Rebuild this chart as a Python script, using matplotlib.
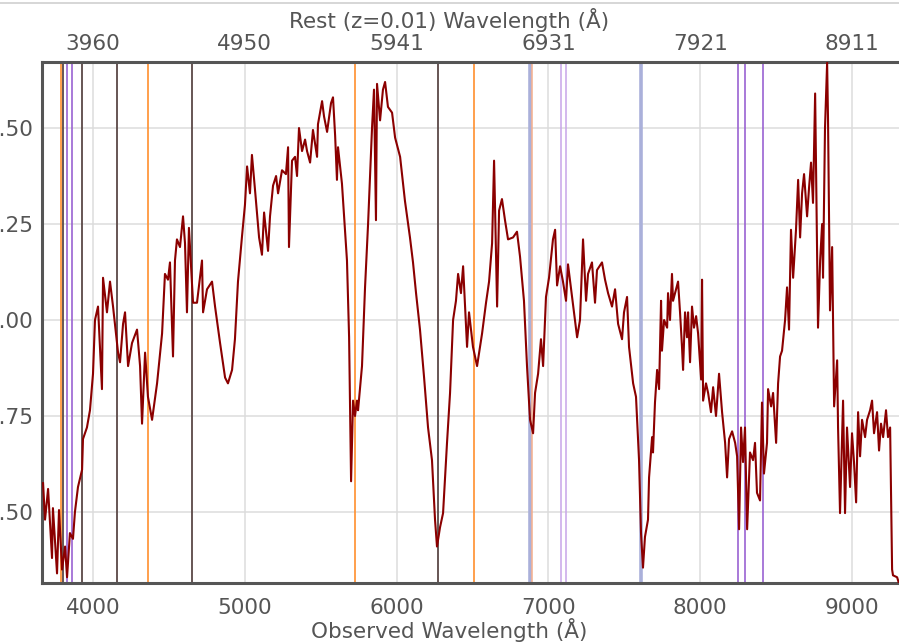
import matplotlib
matplotlib.use("Agg")
import matplotlib.pyplot as plt
from matplotlib.lines import Line2D

# ---- spectrum (observed wavelength in A, normalised flux) ----
wave = [3671, 3684, 3704, 3730, 3736, 3763, 3776, 3796, 3816, 3829, 3848, 3868,
        3881, 3901, 3928, 3934, 3960, 3980, 4000, 4013, 4033, 4059, 4066, 4092,
        4112, 4132, 4165, 4178, 4198, 4211, 4231, 4257, 4290, 4310, 4323, 4343,
        4362, 4389, 4422, 4455, 4474, 4494, 4507, 4527, 4540, 4553, 4573, 4593,
        4606, 4619, 4632, 4659, 4685, 4718, 4725, 4751, 4784, 4804, 4837, 4870,
        4889, 4916, 4935, 4955, 4982, 5001, 5015, 5034, 5047, 5067, 5094, 5113,
        5127, 5153, 5166, 5186, 5206, 5219, 5245, 5271, 5285, 5291, 5311, 5331,
        5344, 5357, 5377, 5397, 5410, 5430, 5449, 5476, 5482, 5509, 5522, 5542,
        5568, 5581, 5595, 5607, 5614, 5640, 5673, 5687, 5700, 5713, 5726, 5739,
        5746, 5772, 5792, 5812, 5838, 5851, 5864, 5871, 5891, 5910, 5924, 5943,
        5970, 5990, 6023, 6055, 6088, 6108, 6128, 6154, 6181, 6207, 6233, 6253,
        6266, 6286, 6306, 6332, 6352, 6372, 6391, 6405, 6424, 6438, 6464, 6477,
        6503, 6530, 6563, 6589, 6609, 6629, 6642, 6662, 6675, 6694, 6714, 6734,
        6767, 6793, 6813, 6839, 6859, 6879, 6899, 6912, 6932, 6951, 6965, 6984,
        7004, 7030, 7044, 7057, 7077, 7096, 7116, 7129, 7156, 7189, 7208, 7228,
        7248, 7261, 7287, 7307, 7320, 7353, 7373, 7393, 7419, 7439, 7459, 7485,
        7498, 7518, 7531, 7558, 7577, 7597, 7610, 7623, 7636, 7656, 7663, 7683,
        7689, 7702, 7716, 7729, 7742, 7748, 7762, 7782, 7788, 7801, 7814, 7821,
        7841, 7854, 7867, 7880, 7887, 7900, 7913, 7920, 7933, 7946, 7959, 7973,
        7986, 8006, 8012, 8019, 8038, 8052, 8071, 8085, 8104, 8124, 8144, 8164,
        8177, 8190, 8210, 8230, 8243, 8256, 8269, 8282, 8295, 8309, 8328, 8348,
        8361, 8374, 8394, 8407, 8420, 8440, 8447, 8467, 8480, 8500, 8513, 8526,
        8539, 8559, 8572, 8585, 8598, 8612, 8631, 8645, 8658, 8671, 8684, 8704,
        8717, 8730, 8743, 8757, 8776, 8790, 8803, 8809, 8822, 8836, 8842, 8855,
        8869, 8882, 8902, 8908, 8921, 8941, 8954, 8967, 8987, 9000, 9013, 9027,
        9040, 9053, 9066, 9086, 9099, 9119, 9132, 9145, 9165, 9178, 9191, 9205,
        9224, 9237, 9251, 9264, 9270, 9297, 9320]
flux = [0.575, 0.48, 0.56, 0.38, 0.51, 0.34, 0.505, 0.35, 0.41, 0.33, 0.445, 0.43,
        0.50, 0.565, 0.61, 0.69, 0.72, 0.765, 0.86, 1.00, 1.035, 0.82, 1.11, 1.02,
        1.10, 1.035, 0.915, 0.89, 0.99, 1.02, 0.88, 0.94, 0.975, 0.88, 0.73, 0.915,
        0.80, 0.74, 0.835, 0.965, 1.12, 1.105, 1.15, 0.905, 1.155, 1.21, 1.19, 1.27,
        1.20, 1.02, 1.24, 1.045, 1.045, 1.155, 1.02, 1.08, 1.10, 1.035, 0.94, 0.85,
        0.835, 0.87, 0.95, 1.10, 1.22, 1.30, 1.40, 1.33, 1.43, 1.34, 1.215, 1.17,
        1.28, 1.18, 1.27, 1.35, 1.375, 1.33, 1.39, 1.38, 1.45, 1.19, 1.415, 1.425,
        1.375, 1.50, 1.44, 1.47, 1.44, 1.41, 1.495, 1.425, 1.51, 1.57, 1.53, 1.49,
        1.565, 1.58, 1.48, 1.365, 1.45, 1.355, 1.155, 0.955, 0.58, 0.79, 0.75, 0.79,
        0.765, 0.88, 1.085, 1.25, 1.50, 1.60, 1.26, 1.615, 1.52, 1.60, 1.62, 1.555,
        1.54, 1.475, 1.425, 1.31, 1.215, 1.15, 1.07, 0.975, 0.85, 0.72, 0.635, 0.48,
        0.41, 0.46, 0.497, 0.68, 0.81, 1.00, 1.05, 1.12, 1.07, 1.14, 0.93, 1.02,
        0.93, 0.88, 0.965, 1.045, 1.10, 1.20, 1.415, 1.035, 1.285, 1.315, 1.26, 1.21,
        1.215, 1.23, 1.165, 1.05, 0.88, 0.74, 0.705, 0.81, 0.86, 0.95, 0.88, 1.06,
        1.11, 1.21, 1.235, 1.09, 1.14, 1.10, 1.05, 1.145, 1.06, 0.955, 1.00, 1.21,
        1.05, 1.12, 1.15, 1.045, 1.13, 1.15, 1.105, 1.07, 1.035, 1.08, 0.99, 0.95,
        1.02, 1.06, 0.93, 0.835, 0.80, 0.635, 0.445, 0.355, 0.435, 0.48, 0.59, 0.695,
        0.655, 0.785, 0.87, 0.82, 1.05, 0.92, 1.00, 0.98, 1.07, 1.00, 1.12, 1.05,
        1.08, 1.10, 1.02, 0.93, 0.87, 1.02, 0.955, 1.02, 0.89, 1.035, 0.98, 1.01,
        0.965, 0.845, 1.105, 0.79, 0.835, 0.81, 0.76, 0.825, 0.75, 0.86, 0.76, 0.68,
        0.59, 0.69, 0.71, 0.68, 0.645, 0.455, 0.72, 0.63, 0.72, 0.455, 0.655, 0.635,
        0.68, 0.55, 0.53, 0.785, 0.60, 0.68, 0.82, 0.775, 0.81, 0.68, 0.835, 0.905,
        0.92, 1.00, 1.085, 0.975, 1.235, 1.11, 1.235, 1.365, 1.215, 1.33, 1.38, 1.27,
        1.345, 1.41, 1.305, 1.59, 0.98, 1.155, 1.25, 1.11, 1.50, 1.67, 1.52, 1.025,
        1.19, 0.775, 0.895, 0.72, 0.497, 0.79, 0.497, 0.72, 0.565, 0.705, 0.63, 0.525,
        0.76, 0.645, 0.74, 0.695, 0.74, 0.765, 0.79, 0.705, 0.76, 0.66, 0.73, 0.695,
        0.765, 0.695, 0.72, 0.35, 0.335, 0.33, 0.30]

# ---- line markers (observed wavelength) ----
orange_lines = [3791, 4363, 5728, 6508]
dark_lines = [3802, 3928, 4157, 4652, 6275]
purple_lines = [3829, 3862, 8251, 8297, 8414]
light_purple_lines = [7083, 7114]
telluric_lines = [6879, 7608]
peach_lines = [6892]

obs_ticks = [4000, 5000, 6000, 7000, 8000, 9000]
flux_ticks = [0.50, 0.75, 1.00, 1.25, 1.50]
z = 0.01

plt.rcParams['font.family'] = ['DejaVu Sans']
txt = '#555555'

fig = plt.figure(figsize=(8.99, 6.43), dpi=100)
ax = fig.add_axes([42 / 899, 60 / 643, 863 / 899, 521 / 643])

for w in telluric_lines:
    ax.axvline(w, color='#aab0da', lw=2.6, zorder=2)
for w in peach_lines:
    ax.axvline(w, color='#f4ad8c', lw=1.1, zorder=2)
for w in light_purple_lines:
    ax.axvline(w, color='#c8a6e8', lw=1.1, zorder=2)
for w in purple_lines:
    ax.axvline(w, color='#9a62d2', lw=1.2, zorder=2)
for w in orange_lines:
    ax.axvline(w, color='#ff8f2e', lw=1.2, zorder=2)
for w in dark_lines:
    ax.axvline(w, color='#5a4846', lw=1.3, zorder=2)

ax.plot(wave, flux, color='#8b0000', lw=1.5, zorder=3)

ax.set_xlim(3664, 9349)
ax.set_ylim(0.315, 1.672)
ax.set_xticks(obs_ticks)
ax.set_yticks(flux_ticks)
ax.set_yticklabels(['%.2f' % v for v in flux_ticks])
ax.grid(True, color='#dcdcdc', lw=1.1, zorder=0)
ax.set_axisbelow(True)

for s in ['left', 'top', 'bottom', 'right']:
    ax.spines[s].set_color('#555555')
    ax.spines[s].set_linewidth(2.2)
ax.tick_params(length=0, labelsize=15.5, colors=txt)
ax.tick_params(axis='x', pad=11)
ax.tick_params(axis='y', pad=6)

top = ax.secondary_xaxis('top', functions=(lambda x: x / (1 + z), lambda x: x * (1 + z)))
top.set_xticks([t / (1 + z) for t in obs_ticks])
top.set_xticklabels(['%.0f' % (t / (1 + z)) for t in obs_ticks])
top.tick_params(length=0, labelsize=15.5, colors=txt, pad=6)
top.spines['top'].set_visible(False)

fig.text(0.5, 1 - 20 / 643, 'Rest (z=0.01) Wavelength (Å)', ha='center', va='center',
         fontsize=15.5, color=txt)
fig.text(0.5, 1 - 630 / 643, 'Observed Wavelength (Å)', ha='center', va='center',
         fontsize=15.5, color=txt)

fig.add_artist(Line2D([0, 1], [1 - 2.5 / 643] * 2, color='#d0d0d0', lw=1.2,
                      transform=fig.transFigure))

fig.savefig('out.png', dpi=100)
